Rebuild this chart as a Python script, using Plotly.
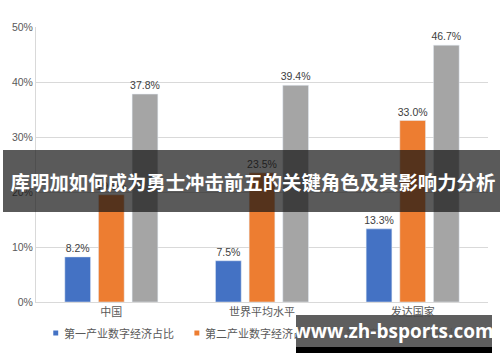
import plotly.graph_objects as go

categories = ["中国", "世界平均水平", "发达国家"]
series_names = ["第一产业数字经济占比", "第二产业数字经济占比", "第三产业数字经济占比"]
primary = [8.2, 7.5, 13.3]
secondary = [19.5, 23.5, 33.0]
tertiary = [37.8, 39.4, 46.7]
colors = ["#4472C4", "#ED7D31", "#A5A5A5"]
banner_text = "库明加如何成为勇士冲击前五的关键角色及其影响力分析"
watermark_text = "www.zh-bsports.com"

W, H = 500, 362
ML, MR, MT, MB = 30, 12, 27, 60
PW, PH = W - ML - MR, H - MT - MB

def px(x):
    return (x - ML) / PW

def py(y):
    return (H - MB - y) / PH

fig = go.Figure()
for name, vals, c in zip(series_names, [primary, secondary, tertiary], colors):
    fig.add_trace(go.Bar(
        x=categories, y=vals, name=name, marker_color=c,
        text=[f"{v:.1f}%" for v in vals], textposition="outside",
        constraintext="none",
        textfont=dict(size=10.5, color="#404040", family="Liberation Sans"),
        cliponaxis=False, showlegend=False,
    ))

annotations = []
shapes = []
# manual legend
leg_x = [50, 193, 336]
for lx, name, c in zip(leg_x, series_names, colors):
    shapes.append(dict(type="rect", xref="paper", yref="paper",
                       x0=px(lx - 2.5), x1=px(lx + 2.5), y0=py(335.5), y1=py(330.5),
                       fillcolor=c, line=dict(width=0)))
    annotations.append(dict(x=px(lx + 6), y=py(333), xref="paper", yref="paper",
                            text=name, showarrow=False, xanchor="left", yanchor="middle",
                            font=dict(size=11, color="#595959", family="Noto Sans CJK SC")))

# banner overlay
annotations.append(dict(x=px(250), y=py(181), xref="paper", yref="paper",
                        text=f"<b>{banner_text}</b>", showarrow=False,
                        xanchor="center", yanchor="middle", width=500, height=62,
                        bgcolor="rgba(20,20,20,0.7)", borderpad=0, borderwidth=0,
                        font=dict(size=19.4, color="white", family="Noto Sans CJK SC")))
# watermark
annotations.append(dict(x=px(393), y=py(331), xref="paper", yref="paper",
                        text=f"<b>{watermark_text}</b>", showarrow=False,
                        xanchor="center", yanchor="middle", width=196, height=32,
                        bgcolor="rgba(80,80,80,0.92)", borderpad=0, borderwidth=0,
                        font=dict(size=19, color="white", family="Open Sans")))
annotations.append(dict(x=px(393), y=py(350), xref="paper", yref="paper",
                        text=" ", showarrow=False,
                        xanchor="center", yanchor="middle", width=196, height=6,
                        bgcolor="black", borderpad=0, borderwidth=0,
                        font=dict(size=4, color="black")))

fig.update_layout(
    width=W, height=H,
    margin=dict(l=ML, r=MR, t=MT, b=MB),
    paper_bgcolor="white", plot_bgcolor="white",
    barmode="group", bargap=0.33, bargroupgap=0.235,
    xaxis=dict(showline=True, linecolor="#d9d9d9", linewidth=1, ticks="",
               tickfont=dict(size=11, color="#595959", family="Noto Sans CJK SC"),
               fixedrange=True),
    yaxis=dict(range=[0, 50], dtick=10, ticksuffix="%", showgrid=True,
               gridcolor="#d9d9d9", showline=True, linecolor="#d9d9d9",
               zeroline=False,
               tickfont=dict(size=10.5, color="#595959", family="Liberation Sans")),
    shapes=shapes, annotations=annotations,
)
fig.write_html("out.html")
